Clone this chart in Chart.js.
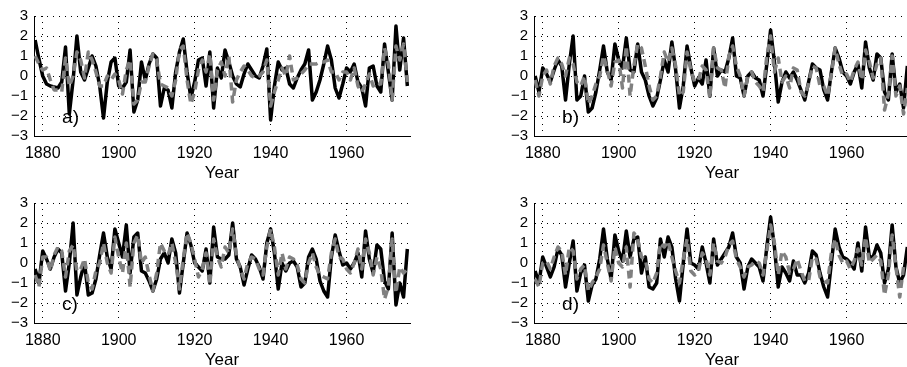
<!DOCTYPE html>
<html lang="en">
<head>
<meta charset="UTF-8">
<title>Four panels, 1878-1976</title>
<script src="https://cdn.jsdelivr.net/npm/chart.js"></script>
<style>
  html, body { margin: 0; padding: 0; background: #fff; overflow: hidden; }
  #wrap { position: relative; width: 907px; height: 367px; overflow: hidden; }
  .panel { position: absolute; width: 420px; height: 190px; }
</style>
</head>
<body>
<div id="wrap">
  <div class="panel" style="left:0;top:0"><canvas id="panelA" width="420" height="190"></canvas></div>
  <div class="panel" style="left:500px;top:0"><canvas id="panelB" width="420" height="190"></canvas></div>
  <div class="panel" style="left:0;top:187px"><canvas id="panelC" width="420" height="190"></canvas></div>
  <div class="panel" style="left:500px;top:187px"><canvas id="panelD" width="420" height="190"></canvas></div>
</div>

<script>
// years on the x axis
const years = [
  1878, 1879, 1880, 1881, 1882, 1883, 1884, 1885, 1886, 1887,
  1888, 1889, 1890, 1891, 1892, 1893, 1894, 1895, 1896, 1897,
  1898, 1899, 1900, 1901, 1902, 1903, 1904, 1905, 1906, 1907,
  1908, 1909, 1910, 1911, 1912, 1913, 1914, 1915, 1916, 1917,
  1918, 1919, 1920, 1921, 1922, 1923, 1924, 1925, 1926, 1927,
  1928, 1929, 1930, 1931, 1932, 1933, 1934, 1935, 1936, 1937,
  1938, 1939, 1940, 1941, 1942, 1943, 1944, 1945, 1946, 1947,
  1948, 1949, 1950, 1951, 1952, 1953, 1954, 1955, 1956, 1957,
  1958, 1959, 1960, 1961, 1962, 1963, 1964, 1965, 1966, 1967,
  1968, 1969, 1970, 1971, 1972, 1973, 1974, 1975, 1976
];
const xTicks = [1880, 1900, 1920, 1940, 1960];
const yTicks = [-3, -2, -1, 0, 1, 2, 3];

// panel a
const aBlack = [
  1.8, 0.85, 0.0, -0.4, -0.5, -0.55, -0.6, -0.3, 1.45, -1.9,
  -0.2, 2.0, 0.2, -0.2, 0.4, 1.0, 0.5, -0.5, -2.1, -0.3,
  0.7, 0.9, -0.5, -0.6, -0.3, 1.3, -1.8, -1.2, 0.7, -0.2,
  0.6, 1.1, 0.9, -1.5, -0.6, -0.7, -1.6, 0.2, 1.2, 1.85,
  0.2, -1.1, -0.3, 0.8, 0.9, -0.5, 1.2, -1.6, 0.4, -0.1,
  1.3, 0.7, 0.0, -0.4, -0.55, 0.1, 0.6, 0.3, 0.0, -0.1,
  0.5, 1.35, -2.2, -0.5, 0.7, 0.3, 0.4, -0.4, -0.6, -0.1,
  0.3, 0.6, 1.3, -1.2, -0.8, -0.2, 0.6, 1.5, 0.8, -0.6,
  -1.1, -0.4, 0.4, 0.2, 0.6, -0.3, -0.6, -1.5, 0.4, 0.5,
  -0.5, -0.8, 1.6, 0.2, -1.2, 2.5, 0.3, 1.9, -0.5
];
const aGray = [
  1.0, 0.6, 0.3, 0.4, -0.2, -0.7, -0.7, -0.8, 0.9, -0.5,
  0.0, 1.2, 0.8, -0.1, 1.2, 0.8, 0.2, -0.5, -0.5, 0.0,
  -0.2, 0.1, -0.2, -0.9, 0.3, 0.8, -1.4, -1.2, -0.3, -0.3,
  0.5, 1.1, 0.8, -0.4, -0.5, -0.6, -1.0, -0.2, 1.3, 1.5,
  -0.2, -1.4, -0.8, 0.3, 0.8, 0.2, 1.1, -1.2, 0.3, 0.7,
  0.0, 1.0, -1.3, -0.2, 0.2, 0.5, 0.3, 0.0, -0.1, 0.0,
  0.2, 0.8, -1.5, -0.8, -0.2, 0.4, 0.0, 1.0, -0.2, -0.1,
  0.1, 0.3, 0.6, 0.6, 0.6, 0.7, 0.7, 0.8, 0.2, 0.2,
  -0.2, 0.2, 0.2, -0.2, 0.4, -0.5, -0.8, -0.4, 0.1, -0.5,
  -0.3, -0.4, 1.4, 0.6, -1.2, 1.5, 0.8, 1.6, -0.3
];

// panel b
const bBlack = [
  0.0, -0.8, 0.4, 0.1, -0.3, 0.3, 0.8, 0.5, -1.2, 0.6,
  2.0, -1.2, -1.0, 0.0, -1.8, -1.6, -0.8, 0.3, 1.5, 0.2,
  -0.2, 1.6, 0.8, 0.4, 1.9, 0.3, 0.2, 1.6, 0.2, -0.2,
  -1.0, -1.5, -1.1, -0.2, 0.8, 0.2, 1.7, 0.3, -1.6, -0.5,
  1.5, 0.4, -0.5, -0.1, -0.4, 0.8, -1.0, 1.4, 0.0, 0.3,
  0.2, 0.9, 1.9, 0.0, -0.1, -1.0, 0.0, 0.2, -0.1, -0.2,
  -1.0, 0.6, 2.3, 0.7, -1.3, -0.3, 0.2, -0.1, 0.2, -0.2,
  -0.7, -1.2, -0.3, 0.6, 0.4, 0.3, -0.7, -1.2, 0.2, 1.4,
  0.9, 0.2, 0.0, -0.4, 0.2, 0.6, -0.6, 1.7, 0.4, -0.2,
  1.1, 0.9, -0.8, -1.2, 1.1, -0.8, -0.4, -1.6, 0.5
];
const bGray = [
  -0.2, -1.0, 0.0, 0.3, -0.4, 0.5, 0.9, 0.6, 0.0, 0.9,
  0.6, -0.3, -0.5, 0.0, -1.4, -1.0, -0.4, 0.0, 1.0, 0.3,
  -0.5, 0.7, 0.8, -0.6, 1.5, -1.0, 0.5, 1.6, 1.4, 0.5,
  -0.5, -1.2, -1.0, 0.0, 1.2, 0.7, 1.4, 0.5, -1.0, -0.8,
  1.2, 0.3, -0.3, -0.2, 0.5, 0.3, -1.1, 1.4, 0.4, 0.3,
  -0.6, 1.0, 1.5, 0.5, 0.0, -1.0, 0.0, 0.2, -0.3, -0.5,
  -0.8, 1.0, 2.0, 0.2, 0.9, -0.3, 0.0, -0.6, 0.4, 0.3,
  -0.8, -1.0, -0.4, 0.5, 0.4, -0.5, -0.5, -1.0, 0.1, 1.4,
  0.6, 0.0, 0.1, -0.3, 0.3, 0.7, -0.2, 1.3, 0.7, -0.1,
  0.6, 0.9, -1.7, -0.9, 1.0, -1.0, -0.5, -1.9, -0.6
];

// panel c
const cBlack = [
  -0.3, -1.0, 0.6, 0.2, -0.3, 0.3, 0.7, 0.5, -1.4, 0.0,
  2.0, -1.6, -0.7, 0.0, -1.6, -1.5, -0.8, 0.4, 1.5, 0.3,
  -0.3, 1.7, 1.0, 0.3, 1.9, -0.5, 1.3, 1.5, -0.4, -0.5,
  -0.9, -1.4, -0.8, 0.2, 0.5, 0.0, 1.2, 0.5, -1.5, 0.0,
  1.5, 0.9, 0.0, -0.2, -0.4, 0.7, -1.0, 1.8, 0.3, 0.2,
  0.2, 0.4, 2.0, 0.2, -0.2, -1.1, -0.3, 0.4, 0.2, -0.2,
  -0.8, 1.0, 1.7, 0.5, -1.3, 0.0, -0.4, 0.0, 0.1, -0.2,
  -1.2, -1.0, 0.3, 0.7, 0.2, -0.9, -1.4, -1.7, 0.3, 1.4,
  0.6, -0.1, 0.0, -0.3, 0.0, 0.5, -0.7, 1.6, 0.2, -0.5,
  0.9, 0.7, -0.9, -1.3, 1.5, -2.1, -1.0, -1.7, 0.7
];
const cGray = [
  -0.6, -1.2, 0.3, 0.3, -0.4, 0.4, 0.8, 0.6, -0.7, 0.6,
  0.9, -0.4, -0.3, 0.2, -1.0, -1.3, -0.4, 0.0, 1.0, 0.0,
  -0.5, 1.3, 0.3, -0.5, 1.0, -1.2, 1.0, 1.4, 0.0, 0.3,
  -0.6, -1.4, -0.5, 1.0, 0.6, 0.4, 1.0, 0.0, -1.3, 0.2,
  1.5, 1.0, 0.2, -0.7, -0.3, 0.5, -1.1, 1.2, 0.3, -0.2,
  0.8, 0.5, 1.7, 0.4, -0.3, -0.8, 0.0, 0.3, 0.2, -0.3,
  -0.6, 0.8, 1.7, 0.8, -0.6, 0.5, -0.3, 0.3, 0.2, -0.1,
  -0.8, -1.0, 0.0, 0.5, -0.2, -0.6, -0.7, -0.8, 0.5, 1.2,
  0.3, 0.2, -0.3, -0.5, 0.0, 0.7, -0.3, 1.2, 0.5, -0.6,
  0.3, -0.3, -1.8, -1.2, 1.2, -1.5, -0.2, -0.5, -0.3
];

// panel d
const dBlack = [
  -0.4, -1.0, 0.3, -0.2, -0.7, -0.2, 0.7, 0.4, -1.2, 0.0,
  1.1, -1.4, -0.5, -0.1, -1.9, -1.1, -0.8, 0.2, 1.7, 0.2,
  -0.8, 1.4, 0.6, 0.1, 1.6, 0.3, 1.2, 1.3, -0.5, 0.3,
  -1.2, -1.3, -1.0, 1.2, 0.3, 1.3, 0.8, -0.8, -1.9, 0.0,
  1.7, 0.0, -0.1, -0.3, 0.8, 0.0, -1.0, 1.2, -0.1, 0.2,
  0.5, 0.8, 1.5, 0.3, 0.0, -1.3, -0.2, 0.2, 0.0, -0.2,
  -0.9, 0.8, 2.3, 0.8, -1.2, -0.2, -0.5, -0.9, 0.1, -0.6,
  -0.6, -1.0, -0.5, 0.6, 0.4, -0.5, -1.2, -1.7, 0.0, 1.7,
  0.8, 0.3, 0.2, 0.0, -0.3, 1.0, -0.4, 1.8, 0.3, 0.3,
  0.9, 0.5, -1.0, -0.3, 1.9, -0.2, -1.0, -0.6, 0.8
];
const dGray = [
  -0.8, -1.2, 0.0, 0.1, -0.3, 0.3, 0.8, 0.6, -0.6, 0.8,
  0.6, -0.8, -0.3, -0.1, -1.4, -1.0, -0.7, -0.3, 0.9, 0.0,
  -0.9, 0.8, 0.0, -0.2, 0.8, -1.2, 1.5, 1.2, 0.3, 0.2,
  -0.8, -1.0, -0.5, 1.0, 0.8, 1.1, 0.3, -0.4, -1.0, 0.2,
  1.2, -0.4, -0.6, -0.4, 0.5, 0.2, -0.6, 1.0, 0.1, 0.0,
  0.3, 0.9, 1.1, 0.2, -0.2, -0.7, -0.2, -0.1, 0.1, 0.0,
  -0.6, 0.6, 1.9, 1.0, -0.6, 0.6, 0.3, -0.5, -0.3, 0.2,
  -0.4, -0.9, -0.9, 0.3, 0.2, -0.7, -0.9, -1.0, 0.5, 1.2,
  0.4, 0.0, 0.1, -0.3, 0.1, 0.7, -0.1, 1.3, 0.0, 0.2,
  0.4, 0.1, -1.6, -0.6, 1.4, -0.2, -1.7, -0.2, -0.3
];

// where the "a)" style tag sits, in data units
const tagAt = { year: 1885.1, value: -2.1 };

Chart.defaults.font.family = '"Liberation Sans", Arial, Helvetica, sans-serif';
Chart.defaults.color = '#000';

const panelTag = {
  id: 'panelTag',
  afterDatasetsDraw(chart, args, opts) {
    const { ctx, scales: { x, y } } = chart;
    ctx.save();
    ctx.font = '19px "Liberation Sans", Arial, sans-serif';
    ctx.fillStyle = '#000';
    ctx.textAlign = 'left';
    ctx.textBaseline = 'middle';
    ctx.fillText(opts.text, x.getPixelForValue(tagAt.year), y.getPixelForValue(tagAt.value));
    ctx.restore();
  }
};

function toPoints(vals) {
  return years.map((yr, i) => ({ x: yr, y: vals[i] }));
}

function makePanel(id, tag, black, gray) {
  const ctx = document.getElementById(id).getContext('2d');
  return new Chart(ctx, {
    type: 'line',
    data: {
      datasets: [
        { label: 'gray', data: toPoints(gray), borderColor: '#808080', borderWidth: 3.5,
          borderDash: [8, 5], borderJoinStyle: 'round', pointRadius: 0, tension: 0,
          fill: false, order: 0 },
        { label: 'black', data: toPoints(black), borderColor: '#000', borderWidth: 3.5,
          borderJoinStyle: 'round', pointRadius: 0, tension: 0, fill: false, order: 1 }
      ]
    },
    options: {
      responsive: false,
      animation: false,
      layout: { padding: { left: 0, top: 16, right: 10, bottom: 0 } },
      plugins: { legend: { display: false }, tooltip: { enabled: false }, panelTag: { text: tag } },
      scales: {
        x: {
          type: 'linear',
          min: 1877.7,
          max: 1976.7,
          afterBuildTicks: s => { s.ticks = xTicks.map(v => ({ value: v })); },
          afterFit: s => { s.height = 54; },
          ticks: { font: { size: 16 }, padding: 7.5, maxRotation: 0, autoSkip: false, callback: v => String(v) },
          grid: { color: '#000', lineWidth: 1, drawTicks: false },
          border: { display: true, color: '#000', width: 1, dash: [1, 5] },
          title: { display: true, text: 'Year', font: { size: 17 }, padding: { top: 0, bottom: 6.8 } }
        },
        y: {
          min: -3,
          max: 3,
          afterBuildTicks: s => { s.ticks = yTicks.map(v => ({ value: v })); },
          afterFit: s => { s.width = 34; },
          ticks: { font: { size: 15, lineHeight: 1 }, padding: 6, autoSkip: false,
                   callback: v => v < 0 ? '\u2212' + Math.abs(v) : String(v) },
          grid: { color: '#000', lineWidth: 1, drawTicks: false },
          border: { display: true, color: '#000', width: 1, dash: [1, 5] }
        }
      }
    },
    plugins: [panelTag]
  });
}

makePanel('panelA', 'a)', aBlack, aGray);
makePanel('panelB', 'b)', bBlack, bGray);
makePanel('panelC', 'c)', cBlack, cGray);
makePanel('panelD', 'd)', dBlack, dGray);
</script>
</body>
</html>
